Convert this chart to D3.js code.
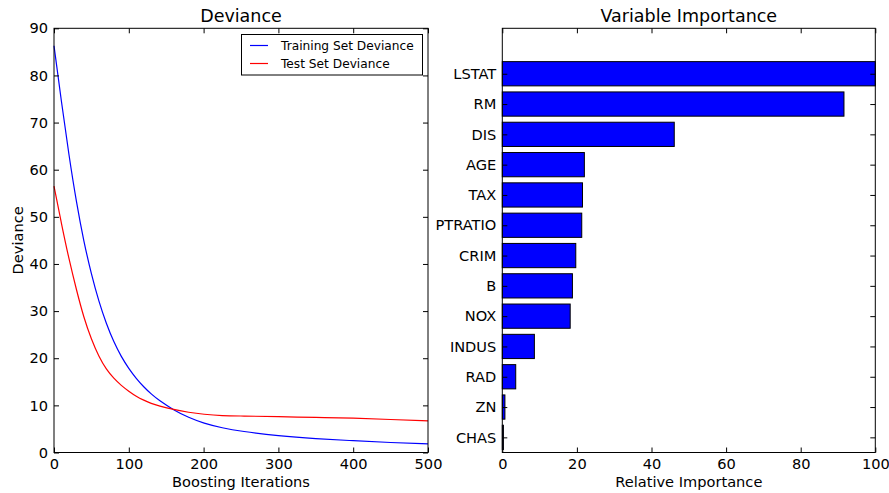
<!DOCTYPE html>
<html>
<head>
<meta charset="utf-8">
<title>Deviance and Variable Importance</title>
<style>
  body { margin: 0; background: #fff; }
  svg text { font-family: "DejaVu Sans", sans-serif; fill: #000; }
  .tick line { stroke: #000; }
</style>
</head>
<body>
<div id="chart"></div>
<script src="https://d3js.org/d3.v7.min.js"></script>
<script>
var iterations = [0, 10, 20, 30, 40, 50, 60, 70, 80, 90, 100, 110, 120, 130, 140, 160, 180, 200, 225, 250, 300, 350, 400, 450, 500];
var trainDeviance = [86.3, 74.3, 63.0, 53.0, 44.6, 37.8, 32.0, 27.3, 23.4, 20.3, 17.8, 15.7, 13.9, 12.4, 11.1, 9.0, 7.4, 6.2, 5.2, 4.5, 3.5, 2.9, 2.5, 2.1, 1.85];
var testDeviance = [56.5, 48.5, 41.0, 34.5, 28.5, 24.0, 20.3, 17.6, 15.7, 14.2, 13.0, 11.9, 11.1, 10.4, 9.9, 9.1, 8.5, 8.1, 7.8, 7.75, 7.6, 7.45, 7.3, 7.0, 6.7];

// variable importance, bottom to top
var features = ["CHAS", "ZN", "RAD", "INDUS", "NOX", "B", "CRIM", "PTRATIO", "TAX", "AGE", "DIS", "RM", "LSTAT"];
var importance = [0.3, 0.7, 3.6, 8.6, 18.2, 18.8, 19.7, 21.3, 21.5, 22.0, 46.1, 91.6, 100];

var devTicksX = [0, 100, 200, 300, 400, 500];
var devTicksY = [0, 10, 20, 30, 40, 50, 60, 70, 80, 90];
var impTicksX = [0, 20, 40, 60, 80, 100];

var W = 889, H = 493;
var yTop = 28.3, yBot = 452.5;
var tickFont = 14.6;

var svg = d3.select("#chart").append("svg")
    .attr("width", W).attr("height", H);

function frame(g, x0, x1) {
    g.append("rect")
        .attr("x", x0).attr("y", yTop)
        .attr("width", x1 - x0).attr("height", yBot - yTop)
        .attr("fill", "none").attr("stroke", "#000").attr("stroke-width", 1);
}

function styleAxis(g) {
    g.select(".domain").remove();
    g.selectAll("text").style("font-size", tickFont + "px").attr("fill", "#000");
}

// ---------- left panel: deviance ----------
var L0 = 54, L1 = 428;
var xd = d3.scaleLinear().domain([0, 500]).range([L0, L1]);
var yd = d3.scaleLinear().domain([0, 90]).range([yBot, yTop]);

var left = svg.append("g");

var line = d3.line().curve(d3.curveBasis)
    .x(function(d, i) { return xd(iterations[i]); })
    .y(function(d) { return yd(d); });

left.append("path").datum(trainDeviance)
    .attr("d", line).attr("fill", "none").attr("stroke", "#0000ff").attr("stroke-width", 1.2);
left.append("path").datum(testDeviance)
    .attr("d", line).attr("fill", "none").attr("stroke", "#ff0000").attr("stroke-width", 1.2);

left.append("g").attr("transform", "translate(0," + yBot + ")")
    .call(d3.axisBottom(xd).tickValues(devTicksX).tickSize(-5).tickPadding(6))
    .call(styleAxis);
left.append("g").attr("transform", "translate(0," + yTop + ")")
    .call(d3.axisTop(xd).tickValues(devTicksX).tickSize(-5).tickFormat(""))
    .call(styleAxis);
left.append("g").attr("transform", "translate(" + L0 + ",0)")
    .call(d3.axisLeft(yd).tickValues(devTicksY).tickSize(-5).tickPadding(6))
    .call(styleAxis);
left.append("g").attr("transform", "translate(" + L1 + ",0)")
    .call(d3.axisRight(yd).tickValues(devTicksY).tickSize(-5).tickFormat(""))
    .call(styleAxis);
frame(left, L0, L1);

left.append("text").attr("x", (L0 + L1) / 2).attr("y", 22)
    .attr("text-anchor", "middle").style("font-size", "17.5px").text("Deviance");
left.append("text").attr("x", (L0 + L1) / 2).attr("y", 487)
    .attr("text-anchor", "middle").style("font-size", "14.6px").text("Boosting Iterations");
left.append("text").attr("transform", "translate(23," + ((yTop + yBot) / 2) + ") rotate(-90)")
    .attr("text-anchor", "middle").style("font-size", "14.6px").text("Deviance");

// legend
var leg = left.append("g");
leg.append("rect").attr("x", 241.5).attr("y", 34.5).attr("width", 181).attr("height", 40.5)
    .attr("fill", "#fff").attr("stroke", "#000").attr("stroke-width", 1);
var legItems = [["Training Set Deviance", "#0000ff"], ["Test Set Deviance", "#ff0000"]];
legItems.forEach(function(it, i) {
    var y = 45.5 + i * 18;
    leg.append("line").attr("x1", 250).attr("x2", 268).attr("y1", y).attr("y2", y)
        .attr("stroke", it[1]).attr("stroke-width", 1.2);
    leg.append("text").attr("x", 281).attr("y", y + 4.3)
        .style("font-size", "12.2px").text(it[0]);
});

// ---------- right panel: variable importance ----------
var R0 = 502.3, R1 = 875.3;
var xi = d3.scaleLinear().domain([0, 100]).range([R0, R1]);
var yi = d3.scaleLinear().domain([0, 14]).range([yBot, yTop]);
var barH = 0.8;

var right = svg.append("g");

right.selectAll("rect.bar").data(importance).enter().append("rect")
    .attr("class", "bar")
    .attr("x", xi(0))
    .attr("y", function(d, i) { return yi(i + 0.5 + barH / 2); })
    .attr("width", function(d) { return xi(d) - xi(0); })
    .attr("height", yi(0) - yi(barH))
    .attr("fill", "#0000ff").attr("stroke", "#000").attr("stroke-width", 1);

var catTicks = features.map(function(f, i) { return i + 0.5; });

right.append("g").attr("transform", "translate(0," + yBot + ")")
    .call(d3.axisBottom(xi).tickValues(impTicksX).tickSize(-5).tickPadding(6))
    .call(styleAxis);
right.append("g").attr("transform", "translate(0," + yTop + ")")
    .call(d3.axisTop(xi).tickValues(impTicksX).tickSize(-5).tickFormat(""))
    .call(styleAxis);
right.append("g").attr("transform", "translate(" + R0 + ",0)")
    .call(d3.axisLeft(yi).tickValues(catTicks).tickSize(-5).tickPadding(6)
        .tickFormat(function(d) { return features[Math.round(d - 0.5)]; }))
    .call(styleAxis);
right.append("g").attr("transform", "translate(" + R1 + ",0)")
    .call(d3.axisRight(yi).tickValues(catTicks).tickSize(-5).tickFormat(""))
    .call(styleAxis);
frame(right, R0, R1);

right.append("text").attr("x", (R0 + R1) / 2).attr("y", 22)
    .attr("text-anchor", "middle").style("font-size", "17.5px").text("Variable Importance");
right.append("text").attr("x", (R0 + R1) / 2).attr("y", 487)
    .attr("text-anchor", "middle").style("font-size", "14.6px").text("Relative Importance");
</script>
</body>
</html>
